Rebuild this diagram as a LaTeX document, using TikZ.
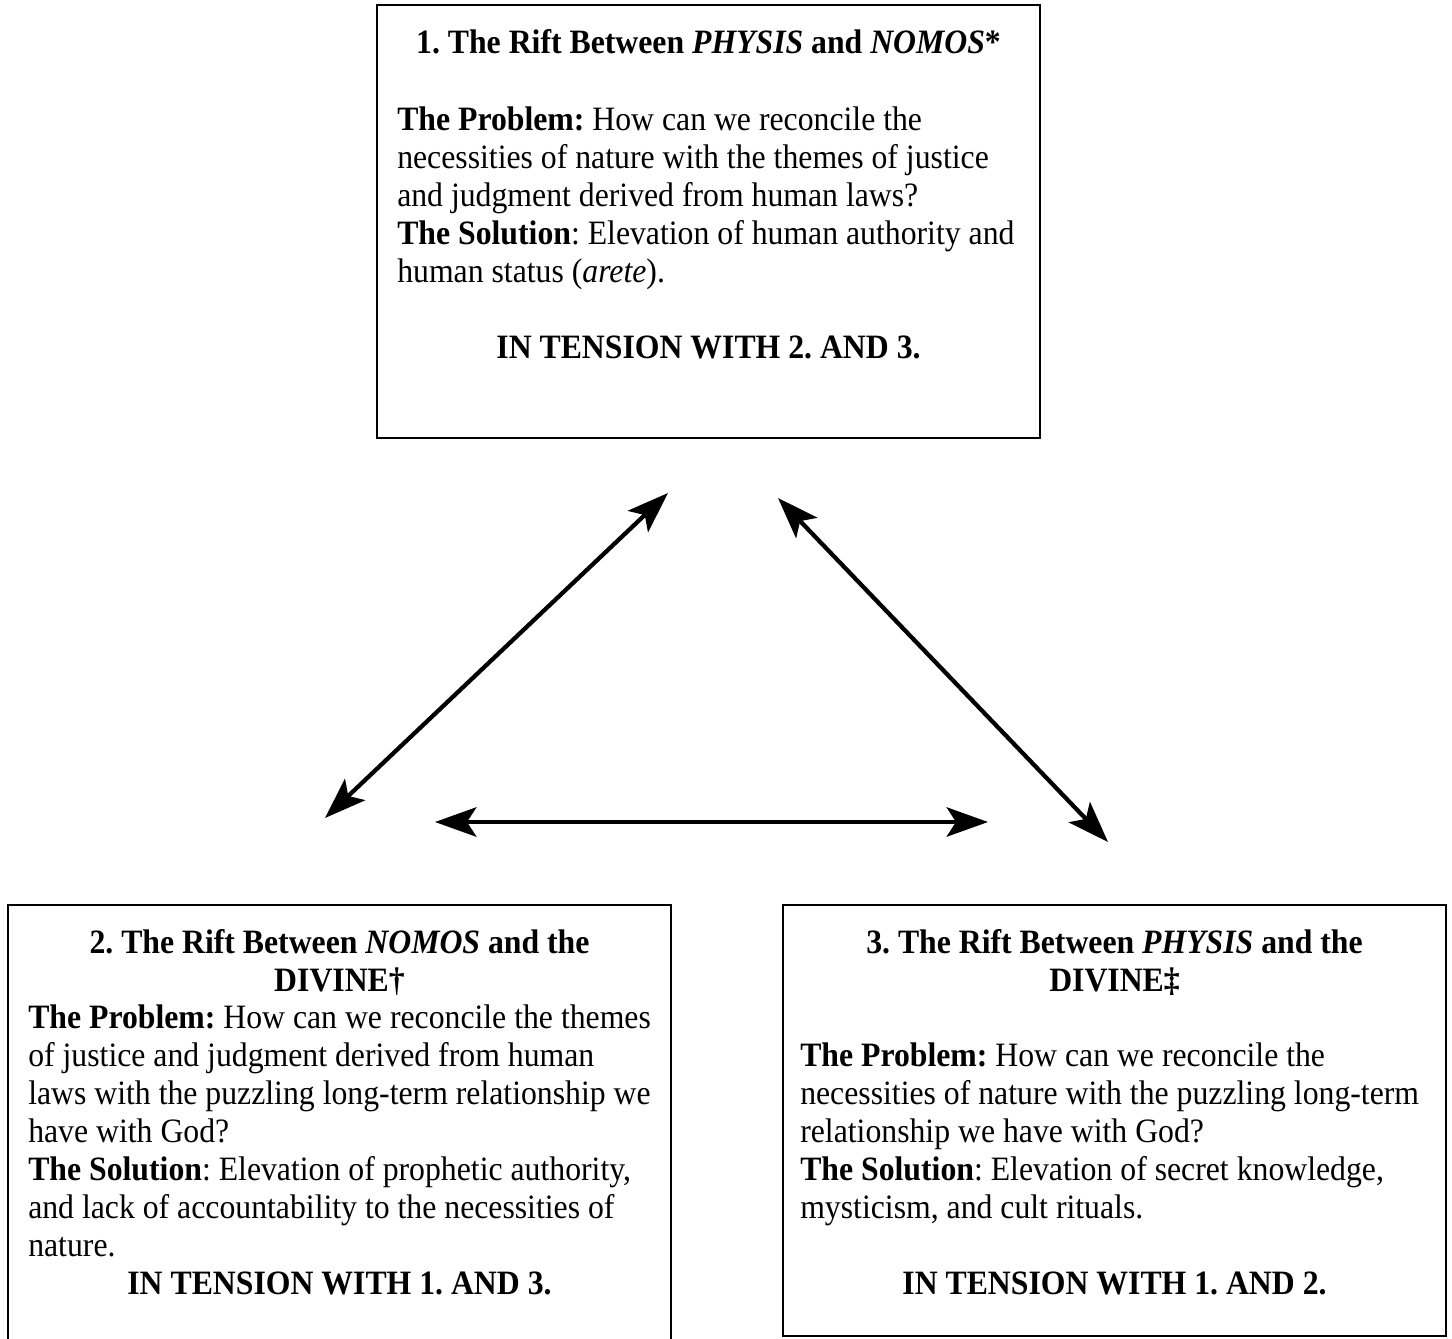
\documentclass[tikz,border=0pt]{standalone}
\usepackage{fontspec}
\setmainfont{Liberation Serif}[FakeStretch=0.93]
\usetikzlibrary{arrows.meta}
\frenchspacing
\begin{document}
\begin{tikzpicture}[x=0.75pt,y=-0.75pt,
  txt/.style={font=\fontsize{25.6}{28.5}\selectfont, inner sep=0pt},
  lft/.style={txt, anchor=base west},
  ctr/.style={txt, anchor=base},
  boxst/.style={draw=black, line width=2.1pt, fill=none, inner sep=0pt, outer sep=0pt, minimum width={663*0.75pt}},
  biarrow/.style={line width=3.2pt, {Stealth[length=31pt, width=22pt, inset=7pt]}-{Stealth[length=31pt, width=22pt, inset=7pt]}}
]
\useasboundingbox (0,0) rectangle (1452,1338);
\fill[white] (0,0) rectangle (1452,1338);

% boxes
\node[boxst, minimum height={433*0.75pt}] (box1) at (708.5,221.5) {};
\node[boxst, minimum height={445*0.75pt}] (box2) at (339.5,1127.5) {};
\node[boxst, minimum height={431*0.75pt}] (box3) at (1114.5,1120.5) {};

% box 1 text
\node[ctr] (t1a) at (708.5,54) {\textbf{1. The Rift Between \textit{PHYSIS} and \textit{NOMOS}*}};
\node[lft] (t1b) at (397,130) {\textbf{The Problem:} How can we reconcile the};
\node[lft] (t1c) at (397,168) {necessities of nature with the themes of justice};
\node[lft] (t1d) at (397,206) {and judgment derived from human laws?};
\node[lft] (t1e) at (397,244) {\textbf{The Solution}: Elevation of human authority and};
\node[lft] (t1f) at (397,282) {human status (\textit{arete}).};
\node[ctr] (t1g) at (708.5,358) {\textbf{IN TENSION WITH 2. AND 3.}};

% box 2 text
\node[ctr] (t2a) at (339.5,953) {\textbf{2. The Rift Between \textit{NOMOS} and the}};
\node[ctr] (t2b) at (339.5,991) {\textbf{DIVINE\textdagger}};
\node[lft] (t2c) at (28,1028) {\textbf{The Problem:} How can we reconcile the themes};
\node[lft] (t2d) at (28,1066) {of justice and judgment derived from human};
\node[lft] (t2e) at (28,1104) {laws with the puzzling long-term relationship we};
\node[lft] (t2f) at (28,1142) {have with God?};
\node[lft] (t2g) at (28,1180) {\textbf{The Solution}: Elevation of prophetic authority,};
\node[lft] (t2h) at (28,1218) {and lack of accountability to the necessities of};
\node[lft] (t2i) at (28,1256) {nature.};
\node[ctr] (t2j) at (339.5,1294) {\textbf{IN TENSION WITH 1. AND 3.}};

% box 3 text
\node[ctr] (t3a) at (1114.5,953) {\textbf{3. The Rift Between \textit{PHYSIS} and the}};
\node[ctr] (t3b) at (1114.5,991) {\textbf{DIVINE\textdaggerdbl}};
\node[lft] (t3c) at (800,1066) {\textbf{The Problem:} How can we reconcile the};
\node[lft] (t3d) at (800,1104) {necessities of nature with the puzzling long-term};
\node[lft] (t3e) at (800,1142) {relationship we have with God?};
\node[lft] (t3f) at (800,1180) {\textbf{The Solution}: Elevation of secret knowledge,};
\node[lft] (t3g) at (800,1218) {mysticism, and cult rituals.};
\node[ctr] (t3h) at (1114.5,1294) {\textbf{IN TENSION WITH 1. AND 2.}};

% arrows
\coordinate (a1) at (668,493);
\coordinate (a2) at (325,818);
\coordinate (b1) at (435,822);
\coordinate (b2) at (988,822);
\coordinate (c1) at (778,498);
\coordinate (c2) at (1108,842);
\draw[biarrow] (a1) -- (a2);
\draw[biarrow] (b1) -- (b2);
\draw[biarrow] (c1) -- (c2);
\end{tikzpicture}
\end{document}
